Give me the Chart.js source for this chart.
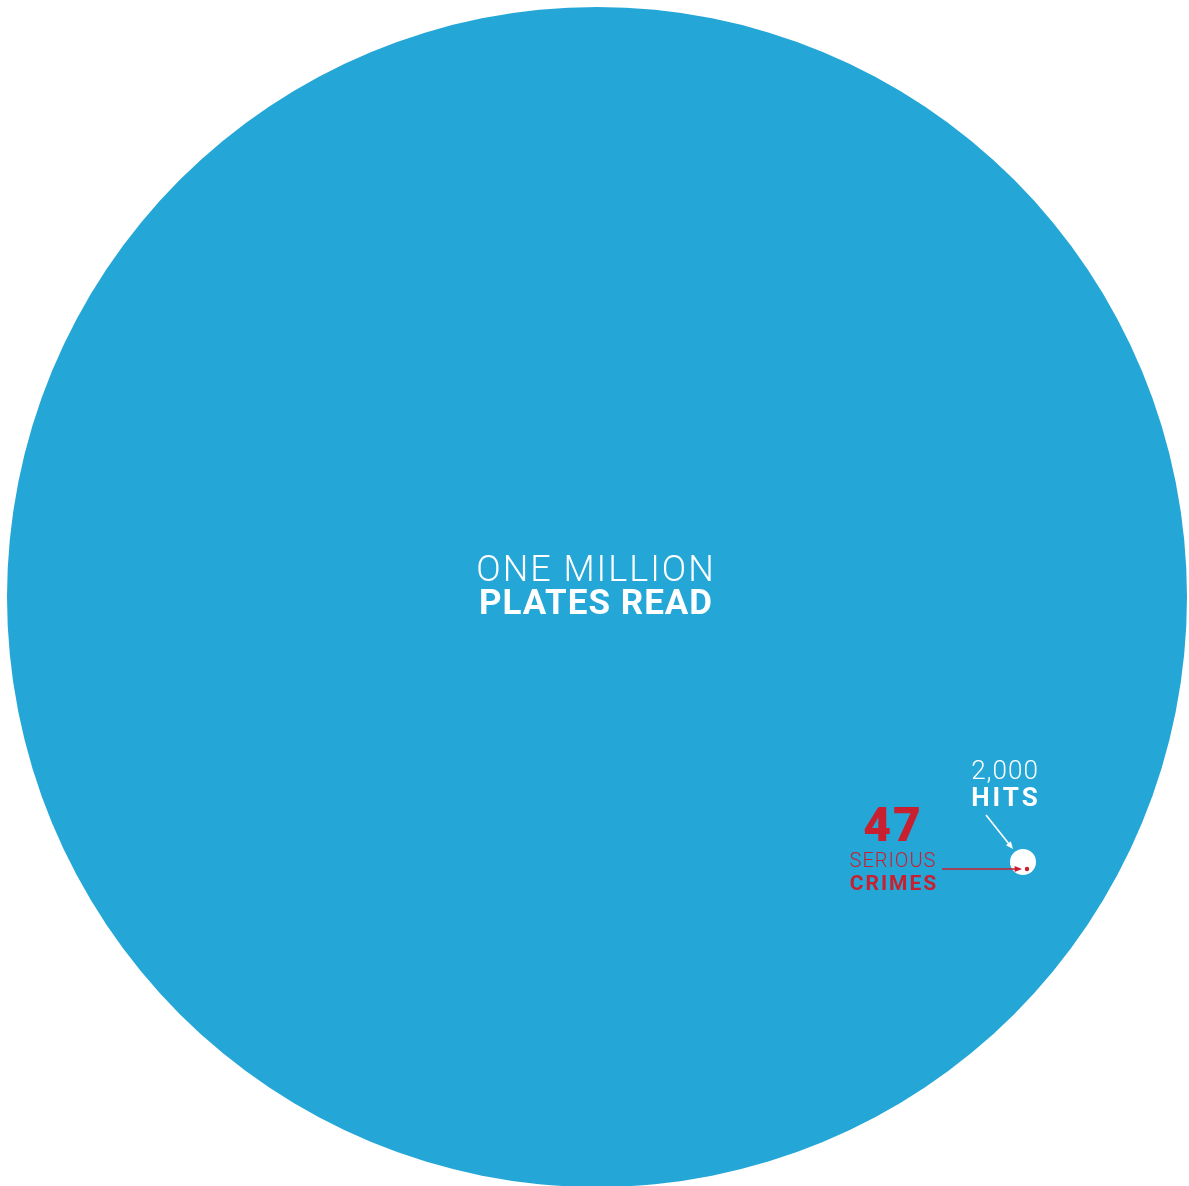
<!DOCTYPE html>
<html lang="en">
<head>
    <meta charset="UTF-8">
    <title>Plates read, hits and serious crimes</title>
    <style>
        body {
            margin: 0;
            padding: 0;
            background-color: #fff;
        }
        .chart-container {
            width: 1189px;
            height: 1186px;
        }
    </style>
    <script src="https://cdn.jsdelivr.net/npm/chart.js"></script>
</head>
<body>
    <div class="chart-container">
        <canvas id="platesChart"></canvas>
    </div>
    <script>
        // values shown in the graphic
        const categories = ['Plates read', 'Hits', 'Serious crimes'];
        const counts = [1000000, 2000, 47];
        const labelTop = ['ONE MILLION', '2,000', '47'];
        const labelBottom = ['PLATES READ', 'HITS', 'CRIMES'];

        // layout of the circles (canvas units)
        const centres = [[597, 597], [1023, 862], [1027, 869]];
        const radii = [590, 13, 2.2];
        const colours = ['#24a7d7', '#ffffff', '#c8202f'];

        const RED = '#c8202f';
        const FONT = 'Roboto, "DejaVu Sans", sans-serif';

        const labelsPlugin = {
            id: 'labels',
            afterDatasetsDraw(chart) {
                const ctx = chart.ctx;
                const x = v => chart.scales.x.getPixelForValue(v);
                const y = v => chart.scales.y.getPixelForValue(v);
                ctx.save();
                ctx.textAlign = 'center';
                ctx.textBaseline = 'alphabetic';

                // big circle
                ctx.fillStyle = '#fff';
                ctx.letterSpacing = '2px';
                ctx.font = '300 36px ' + FONT;
                ctx.fillText(labelTop[0], x(596), y(581));
                ctx.letterSpacing = '1px';
                ctx.font = 'bold 35px ' + FONT;
                ctx.fillText(labelBottom[0], x(596), y(614));

                // hits
                ctx.letterSpacing = '1px';
                ctx.font = '300 26px ' + FONT;
                ctx.fillText(labelTop[1], x(1005), y(779));
                ctx.letterSpacing = '3px';
                ctx.font = 'bold 26px ' + FONT;
                ctx.fillText(labelBottom[1], x(1006), y(806));

                // serious crimes
                ctx.fillStyle = RED;
                ctx.letterSpacing = '2px';
                ctx.font = '900 48px ' + FONT;
                ctx.fillText(labelTop[2], x(893), y(841));
                ctx.letterSpacing = '1px';
                ctx.font = '300 20px ' + FONT;
                ctx.fillText('SERIOUS', x(893), y(867));
                ctx.letterSpacing = '2px';
                ctx.font = 'bold 21px ' + FONT;
                ctx.fillText(labelBottom[2], x(894), y(890));

                // arrows
                drawArrow(ctx, x(986), y(815), x(1013), y(849), '#fff');
                drawArrow(ctx, x(942), y(869), x(1022), y(869), RED);
                ctx.restore();
            }
        };

        function drawArrow(ctx, x1, y1, x2, y2, colour) {
            const a = Math.atan2(y2 - y1, x2 - x1);
            const head = 8;
            ctx.strokeStyle = colour;
            ctx.fillStyle = colour;
            ctx.lineWidth = 1.6;
            ctx.beginPath();
            ctx.moveTo(x1, y1);
            ctx.lineTo(x2 - head * 0.8 * Math.cos(a), y2 - head * 0.8 * Math.sin(a));
            ctx.stroke();
            ctx.beginPath();
            ctx.moveTo(x2, y2);
            ctx.lineTo(x2 - head * Math.cos(a - 0.4), y2 - head * Math.sin(a - 0.4));
            ctx.lineTo(x2 - head * Math.cos(a + 0.4), y2 - head * Math.sin(a + 0.4));
            ctx.closePath();
            ctx.fill();
        }

        const ctx = document.getElementById('platesChart').getContext('2d');
        new Chart(ctx, {
            type: 'bubble',
            data: {
                datasets: categories.map((name, i) => ({
                    label: name,
                    data: [{ x: centres[i][0], y: centres[i][1], r: radii[i], count: counts[i] }],
                    backgroundColor: colours[i],
                    borderWidth: 0,
                    hoverBorderWidth: 0,
                    clip: false,
                    // big circle underneath, smaller ones on top
                    order: categories.length - i
                }))
            },
            options: {
                responsive: true,
                maintainAspectRatio: false,
                animation: false,
                layout: { padding: 0, autoPadding: false },
                plugins: {
                    legend: { display: false },
                    tooltip: { enabled: false }
                },
                scales: {
                    x: { type: 'linear', min: 0, max: 1189, display: false },
                    y: { type: 'linear', min: 0, max: 1186, reverse: true, display: false }
                }
            },
            plugins: [labelsPlugin]
        });
    </script>
</body>
</html>
